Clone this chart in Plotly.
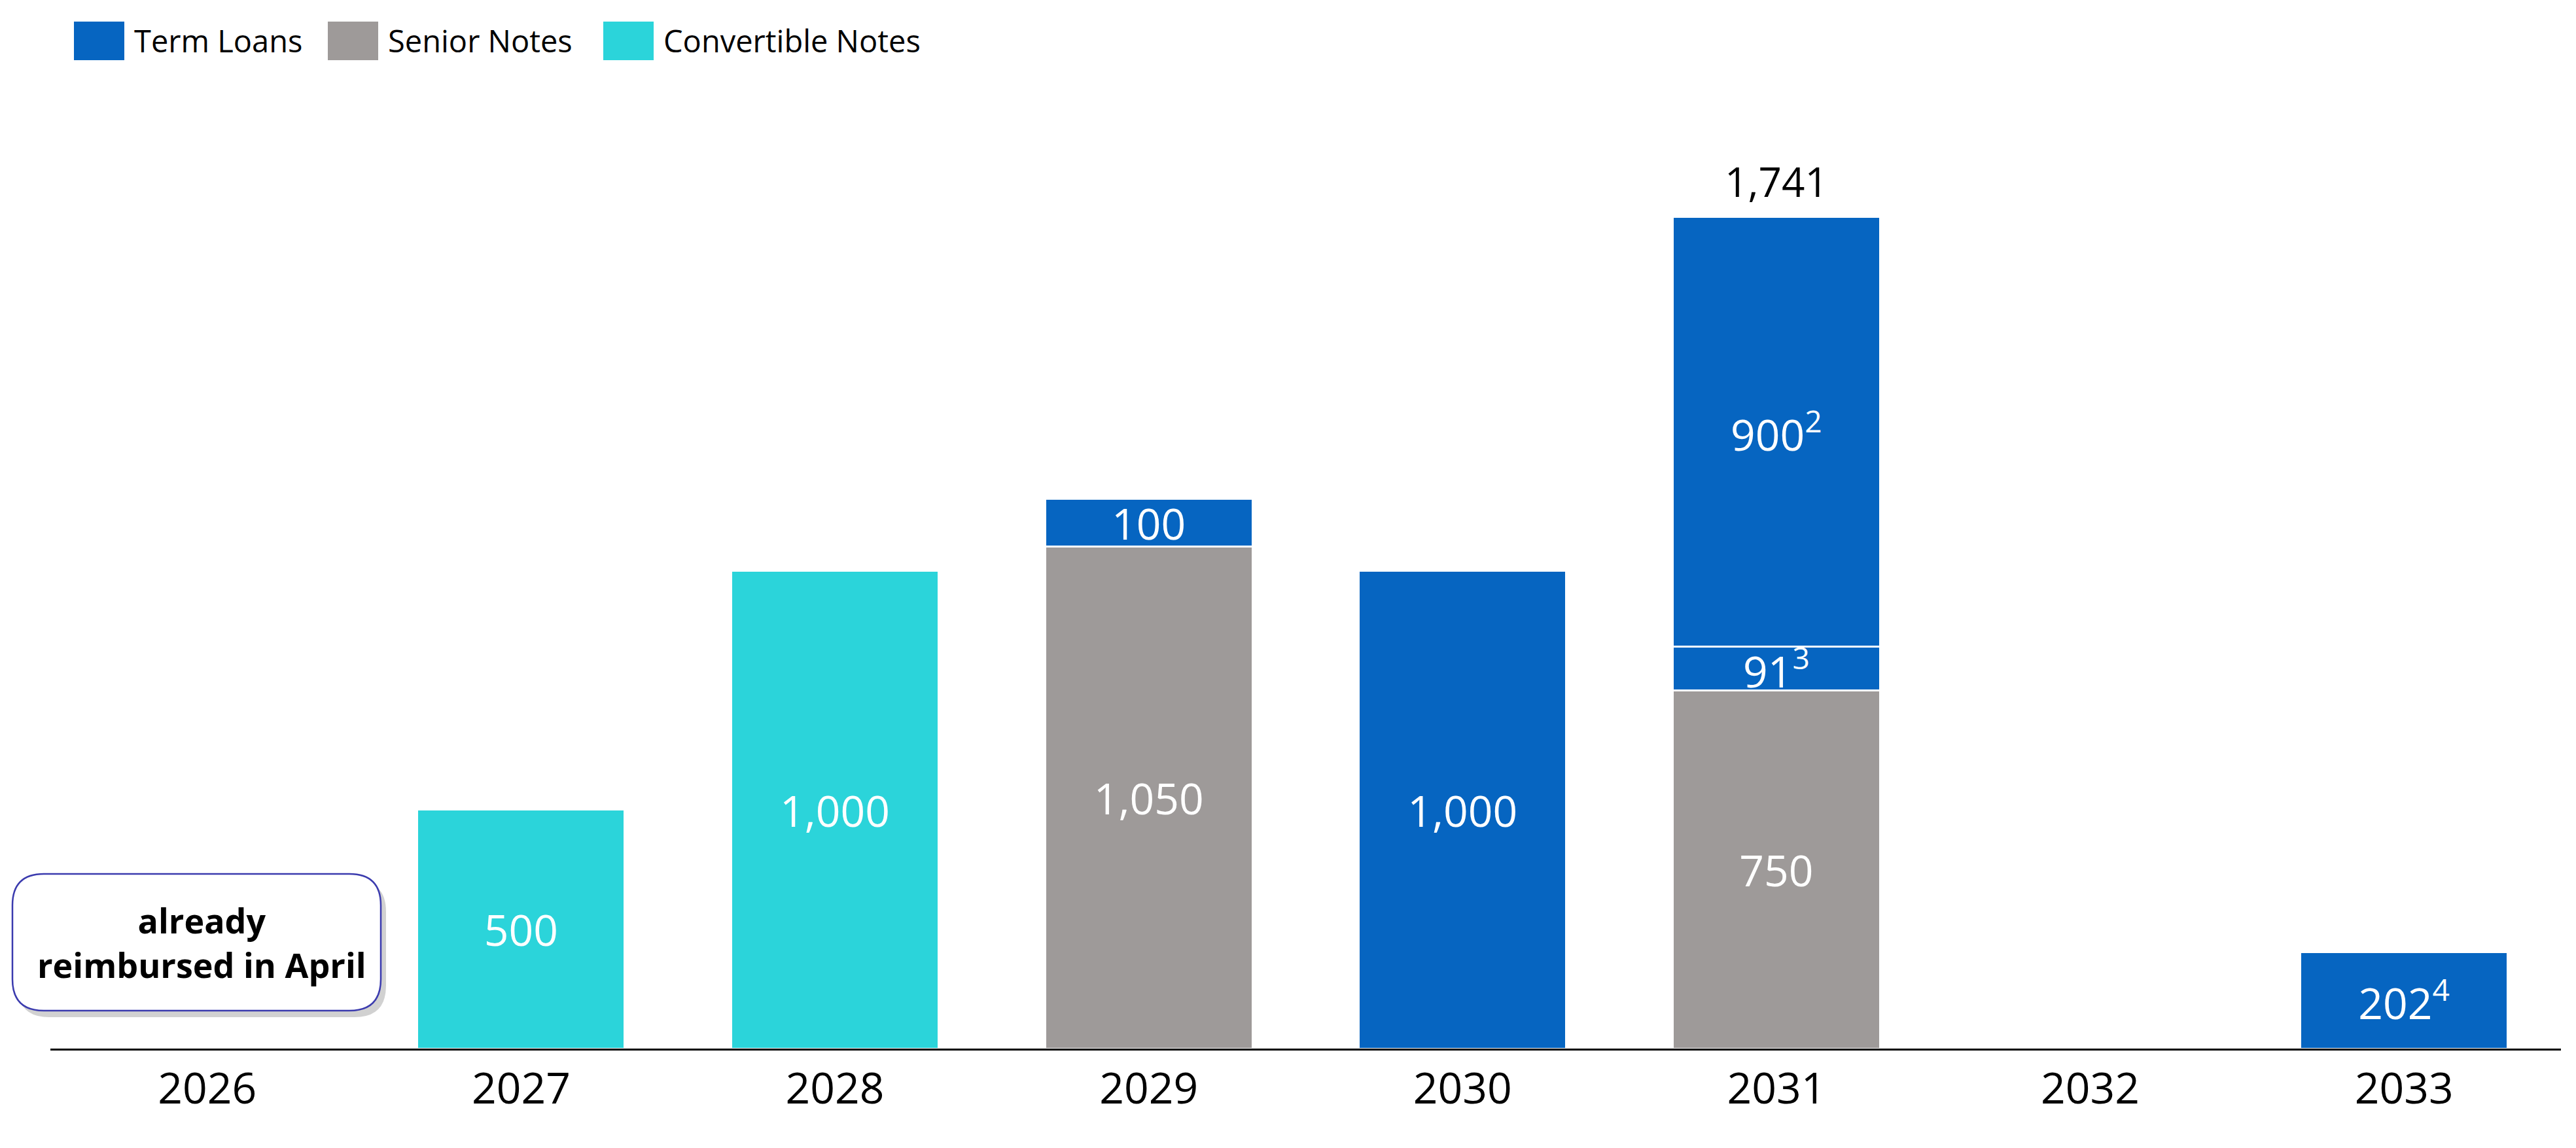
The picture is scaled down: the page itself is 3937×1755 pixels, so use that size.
import plotly.graph_objects as go

# Debt maturity profile (in millions)
years = ["2026", "2027", "2028", "2029", "2030", "2031", "2032", "2033"]
convertible_notes = [None, 500, 1000, None, None, None, None, None]
senior_notes = [None, None, None, 1050, None, 750, None, None]
term_loans = [None, None, None, 100, 1000, 91, None, 202]
term_loans_extra = [None, None, None, None, None, 900, None, None]

# footnote marks on some of the labels
term_notes = [None, None, None, None, None, "3", None, "4"]
term_extra_notes = [None, None, None, None, None, "2", None, None]

legend_names = ["Term Loans", "Senior Notes", "Convertible Notes"]
legend_colors = ["#0665C1", "#9E9A99", "#2BD4DA"]
total_year = "2031"
callout_text = "already<br>reimbursed in April"

BLUE, GREY, CYAN = legend_colors

W, H = 3937, 1755
L, R, T, B = 69, 31, 207, 160
PW, PH = W - L - R, H - T - B


def fmt(v, note=None):
    if v is None:
        return ""
    s = f"{v:,}"
    if note:
        s += f"<sup>{note}</sup>"
    return s


# pixel -> paper helpers (for the hand drawn legend and callout)
def px(x):
    return (x - L) / PW


def py(y):
    return (T + PH - y) / PH


def rounded(x0, y0, x1, y1, r):
    pts = [
        f"M {px(x0 + r)},{py(y0)}",
        f"L {px(x1 - r)},{py(y0)}",
        f"Q {px(x1)},{py(y0)} {px(x1)},{py(y0 + r)}",
        f"L {px(x1)},{py(y1 - r)}",
        f"Q {px(x1)},{py(y1)} {px(x1 - r)},{py(y1)}",
        f"L {px(x0 + r)},{py(y1)}",
        f"Q {px(x0)},{py(y1)} {px(x0)},{py(y1 - r)}",
        f"L {px(x0)},{py(y0 + r)}",
        f"Q {px(x0)},{py(y0)} {px(x0 + r)},{py(y0)}",
        "Z",
    ]
    return " ".join(pts)


fig = go.Figure()

series = [
    (convertible_notes, None, CYAN),
    (senior_notes, None, GREY),
    (term_loans, term_notes, BLUE),
    (term_loans_extra, term_extra_notes, BLUE),
]
for vals, notes, color in series:
    notes = notes or [None] * len(vals)
    fig.add_trace(
        go.Bar(
            x=years,
            y=vals,
            text=[fmt(v, n) for v, n in zip(vals, notes)],
            textposition="inside",
            insidetextanchor="middle",
            textangle=0,
            constraintext="none",
            textfont=dict(color="white", size=66, family="Open Sans"),
            marker=dict(color=color, line=dict(color="white", width=3)),
            showlegend=False,
        )
    )

# total on top of the 2031 stack
# (category axes take the index here, the year string would be read as a number)
i = years.index(total_year)
total = sum(v[i] or 0 for v in [senior_notes, term_loans, term_loans_extra])
fig.add_annotation(
    x=i, y=total, text=f"{total:,}", showarrow=False,
    yanchor="bottom", yshift=10,
    font=dict(family="Open Sans", size=62, color="black"),
)

# callout box (rounded, with a soft shadow)
fig.add_shape(type="path", xref="paper", yref="paper", layer="above",
              path=rounded(19, 1338, 582, 1547, 48),
              fillcolor="rgba(0,0,0,0.18)", line=dict(width=0))
fig.add_shape(type="path", xref="paper", yref="paper", layer="above",
              path=rounded(11, 1328, 574, 1537, 48),
              fillcolor="white", line=dict(color="#3B3BAE", width=2.5))
fig.add_annotation(
    xref="paper", yref="paper", x=px(300), y=py(1432), text=f"<b>{callout_text}</b>",
    showarrow=False, align="center", xanchor="center", yanchor="middle",
    font=dict(family="Open Sans", size=52, color="black"),
)

# legend drawn by hand so the swatches are large
legend_x = [105, 493, 914]
for name, color, lx in zip(legend_names, legend_colors, legend_x):
    fig.add_shape(type="rect", xref="paper", yref="paper",
                  x0=px(lx), x1=px(lx + 77), y0=py(84), y1=py(25),
                  fillcolor=color, line=dict(width=0))
    fig.add_annotation(xref="paper", yref="paper", x=px(lx + 90), y=py(54),
                       text=name, showarrow=False, xanchor="left", yanchor="middle",
                       font=dict(family="Open Sans", size=47, color="black"))

fig.update_layout(
    width=W,
    height=H,
    barmode="stack",
    bargap=0.339,
    hovermode=False,
    plot_bgcolor="white",
    paper_bgcolor="white",
    margin=dict(l=L, r=R, t=T, b=B, autoexpand=False),
    xaxis=dict(
        type="category", categoryorder="array", categoryarray=years,
        range=[-0.5, len(years) - 0.5], automargin=False,
        showline=True, linecolor="black", linewidth=3, ticks="", ticklen=0,
        ticklabelstandoff=2,
        tickfont=dict(family="Open Sans", size=66, color="black"),
        showgrid=False, zeroline=False,
    ),
    yaxis=dict(range=[0, 1900], visible=False, showgrid=False),
)

fig.write_html("out.html", config={"displayModeBar": False})
